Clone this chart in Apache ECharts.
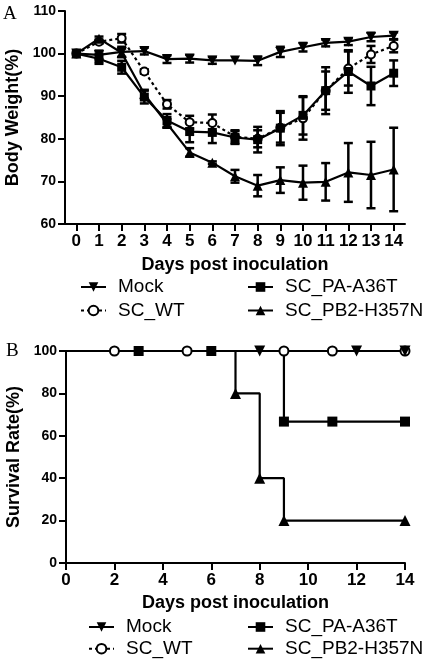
<!DOCTYPE html>
<html><head><meta charset="utf-8">
<script src="https://cdn.jsdelivr.net/npm/echarts@6/dist/echarts.min.js"></script>
<style>html,body{margin:0;padding:0;background:#fff}#c{width:423px;height:664px}</style>
</head><body><div id="c"></div>
<script>
// ---- Panel A: body weight (%) ----
const days = ['0','1','2','3','4','5','6','7','8','9','10','11','12','13','14'];
const mockMean = [100, 99.7, 100.4, 100.6, 98.7, 98.8, 98.4, 98.4, 98.3, 100.4, 101.5, 102.5, 102.8, 103.9, 104.2];
const mockSD   = [0, 1.0, 1.2, 0.8, 0.9, 0.9, 0.8, 0, 1.0, 1.2, 1.0, 0.8, 0.8, 1.0, 0.8];
const wtMean   = [100, 102.8, 103.6, 95.8, 88.1, 83.9, 83.7, 80.5, 80.0, 82.6, 84.8, 91.3, 96.5, 99.8, 101.8];
const wtSD     = [0, 0.5, 1.0, 0.5, 1.0, 1.5, 2.0, 1.5, 2.0, 3.5, 5.0, 4.5, 4.0, 2.0, 1.5];
const paMean   = [100, 98.8, 96.8, 89.8, 84.3, 81.7, 81.5, 80.3, 79.8, 82.5, 85.5, 91.3, 95.8, 92.4, 95.4];
const paSD     = [0, 1.2, 1.5, 1.5, 1.5, 2.5, 2.5, 1.5, 3.0, 4.0, 4.5, 5.5, 5.0, 4.5, 3.0];
const pb2Mean  = [100, 103.5, 100.2, 90.5, 83.6, 76.8, 74.4, 71.2, 69.0, 70.3, 69.7, 69.9, 72.1, 71.5, 72.8];
const pb2SD    = [0, 0.5, 1.0, 1.0, 1.0, 1.0, 0.3, 1.5, 2.5, 3.0, 4.0, 4.4, 6.9, 7.8, 9.8];
const yTicksA  = [60, 70, 80, 90, 100, 110];

// ---- Panel B: survival rate (%) ----
const mockSurvX = [0, 8, 12, 14];        const mockSurvY = [100, 100, 100, 100];
const wtSurvX   = [0, 2, 5, 9, 11, 14];  const wtSurvY   = [100, 100, 100, 100, 100, 100];
const paSurvX   = [0, 3, 6, 9, 11, 14];  const paSurvY   = [100, 100, 100, 66.7, 66.7, 66.7];
const pb2SurvX  = [0, 7, 8, 9, 14];      const pb2SurvY  = [100, 80, 40, 20, 20];

const FONT = 'Liberation Sans, Arial, sans-serif';
const BLK = '#000';

const styles = {
  'Mock':         {symbol: 'triangle', symbolRotate: 180, symbolSize: 10, dash: 'solid'},
  'SC_WT':        {symbol: 'emptyCircle', symbolRotate: 0, symbolSize: 8, dash: [3, 3]},
  'SC_PA-A36T':   {symbol: 'rect', symbolRotate: 0, symbolSize: 9, dash: 'solid'},
  'SC_PB2-H357N': {symbol: 'triangle', symbolRotate: 0, symbolSize: 10, dash: 'solid'}
};

function lineA(name, mean) {
  const s = styles[name];
  return {
    type: 'line', name: name, xAxisIndex: 0, yAxisIndex: 0, data: mean,
    symbol: s.symbol, symbolRotate: s.symbolRotate, symbolSize: s.symbolSize,
    lineStyle: {color: BLK, width: 2.2, type: s.dash},
    itemStyle: {color: BLK, borderColor: BLK, borderWidth: s.symbol === 'emptyCircle' ? 2.5 : 0},
    emphasis: {disabled: true}, z: 3, clip: false, animation: false
  };
}
function errA(name, mean, sd) {
  return {
    type: 'custom', name: name + ' SD', xAxisIndex: 0, yAxisIndex: 0,
    data: mean.map((m, i) => [i, m, sd[i]]),
    encode: {x: 0, y: 1},
    renderItem: function (params, api) {
      const x = api.value(0), m = api.value(1), s = api.value(2);
      if (!s) return null;
      const t = api.coord([x, m + s]), b = api.coord([x, m - s]);
      const hw = 4.5;
      const st = {stroke: BLK, lineWidth: 2.5};
      return {type: 'group', children: [
        {type: 'line', shape: {x1: t[0], y1: t[1], x2: b[0], y2: b[1]}, style: st},
        {type: 'line', shape: {x1: t[0] - hw, y1: t[1], x2: t[0] + hw, y2: t[1]}, style: st},
        {type: 'line', shape: {x1: b[0] - hw, y1: b[1], x2: b[0] + hw, y2: b[1]}, style: st}
      ]};
    },
    silent: true, z: 2, clip: false, animation: false
  };
}
function lineB(name, xs, ys) {
  const s = styles[name];
  return {
    type: 'line', name: name, xAxisIndex: 1, yAxisIndex: 1, step: 'end',
    data: xs.map((x, i) => i === 0 ? {value: [x, ys[i]], symbol: 'none'} : [x, ys[i]]),
    symbol: s.symbol, symbolRotate: s.symbolRotate, symbolSize: s.symbolSize + 1, showAllSymbol: true,
    lineStyle: {color: BLK, width: 2.2, type: 'solid'},
    itemStyle: {color: BLK, borderColor: BLK, borderWidth: s.symbol === 'emptyCircle' ? 2.5 : 0},
    emphasis: {disabled: true}, z: 3, clip: false, animation: false
  };
}

const axisLineS = {show: true, lineStyle: {color: BLK, width: 2}};
const tickS = {show: true, length: 7, lineStyle: {color: BLK, width: 2}};
const tickLabelX = {color: BLK, fontWeight: 'bold', fontSize: 17, fontFamily: FONT, margin: 9};
const tickLabelY = {color: BLK, fontWeight: 'bold', fontSize: 14, fontFamily: FONT, margin: 9};
const nameS = {color: BLK, fontWeight: 'bold', fontSize: 18, fontFamily: FONT};

function legend(left, top, names, gap) {
  return {
    orient: 'vertical', left: left, top: top, padding: 0, itemGap: gap,
    itemWidth: 25, itemHeight: 12, data: names, selectedMode: false,
    textStyle: {color: BLK, fontSize: 19, fontFamily: FONT, lineHeight: 20, padding: [0, 0, 0, 7]}
  };
}

const option = {
  backgroundColor: '#fff',
  animation: false,
  grid: [
    {left: 65, right: 18, top: 11, bottom: 440, outerBoundsMode: 'none'},
    {left: 66, right: 18, top: 351, bottom: 101, outerBoundsMode: 'none'}
  ],
  xAxis: [
    {gridIndex: 0, type: 'category', data: days, boundaryGap: true,
     axisLine: axisLineS, axisTick: Object.assign({alignWithLabel: true, interval: 0}, tickS),
     axisLabel: Object.assign({interval: 0}, tickLabelX), splitLine: {show: false},
     name: 'Days post inoculation', nameLocation: 'middle', nameGap: 32, nameTextStyle: nameS},
    {gridIndex: 1, type: 'value', min: 0, max: 14, interval: 2,
     axisLine: axisLineS, axisTick: tickS, axisLabel: tickLabelX, splitLine: {show: false},
     name: 'Days post inoculation', nameLocation: 'middle', nameGap: 31, nameTextStyle: nameS}
  ],
  yAxis: [
    {gridIndex: 0, type: 'value', min: yTicksA[0], max: yTicksA[yTicksA.length - 1], interval: 10,
     axisLine: axisLineS, axisTick: tickS, axisLabel: tickLabelY, splitLine: {show: false},
     name: 'Body Weight(%)', nameLocation: 'middle', nameGap: 35, nameRotate: 90, nameTextStyle: nameS},
    {gridIndex: 1, type: 'value', min: 0, max: 100, interval: 20,
     axisLine: axisLineS, axisTick: tickS, axisLabel: tickLabelY, splitLine: {show: false},
     name: 'Survival Rate(%)', nameLocation: 'middle', nameGap: 35, nameRotate: 90, nameTextStyle: nameS}
  ],
  legend: [
    legend(80, 277, ['Mock', 'SC_WT'], 3.5),
    legend(247, 277, ['SC_PA-A36T', 'SC_PB2-H357N'], 3.5),
    legend(88, 617, ['Mock', 'SC_WT'], 1.7),
    legend(247, 617, ['SC_PA-A36T', 'SC_PB2-H357N'], 1.7)
  ],
  graphic: [
    {type: 'text', left: 3, top: 5, style: {text: 'A', font: '19px "Liberation Serif", serif', fill: BLK}},
    {type: 'text', left: 6, top: 342, style: {text: 'B', font: '19px "Liberation Serif", serif', fill: BLK}}
  ],
  series: [
    errA('SC_WT', wtMean, wtSD),
    errA('Mock', mockMean, mockSD),
    errA('SC_PA-A36T', paMean, paSD),
    errA('SC_PB2-H357N', pb2Mean, pb2SD),
    lineA('SC_WT', wtMean),
    lineA('Mock', mockMean),
    lineA('SC_PA-A36T', paMean),
    lineA('SC_PB2-H357N', pb2Mean),
    lineB('SC_WT', wtSurvX, wtSurvY),
    lineB('Mock', mockSurvX, mockSurvY),
    lineB('SC_PA-A36T', paSurvX, paSurvY),
    lineB('SC_PB2-H357N', pb2SurvX, pb2SurvY)
  ]
};
const chart = echarts.init(document.getElementById('c'), null, {renderer: 'canvas'});
chart.setOption(option);
</script></body></html>
